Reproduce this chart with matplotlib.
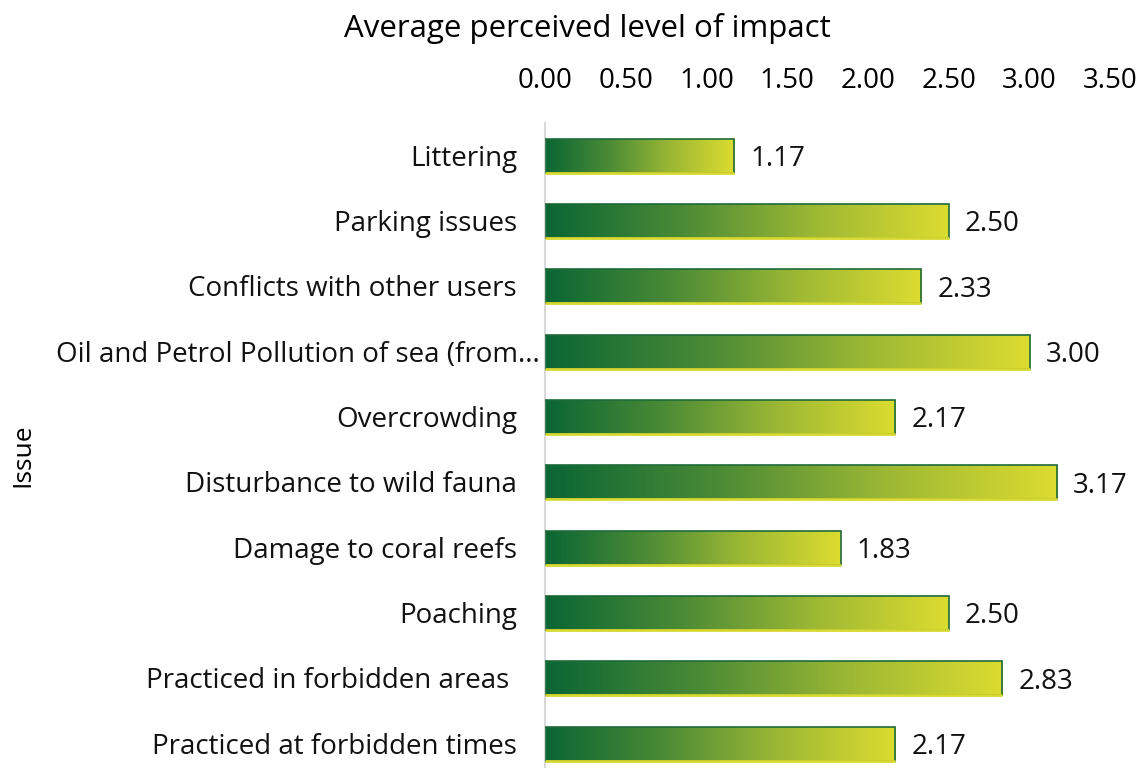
import numpy as np
import matplotlib.pyplot as plt
import matplotlib.transforms as mtransforms
from matplotlib.colors import LinearSegmentedColormap
from matplotlib.patches import Rectangle

categories = ["Littering", "Parking issues", "Conflicts with other users",
              "Oil and Petrol Pollution of sea (from...", "Overcrowding",
              "Disturbance to wild fauna", "Damage to coral reefs", "Poaching",
              "Practiced in forbidden areas ", "Practiced at forbidden times"]
values = [1.17, 2.50, 2.33, 3.00, 2.17, 3.17, 1.83, 2.50, 2.83, 2.17]
xticks = [0, 0.5, 1.0, 1.5, 2.0, 2.5, 3.0, 3.5]

plt.rcParams['font.family'] = ['Open Sans', 'DejaVu Sans']
fig = plt.figure(figsize=(11.48, 7.68), dpi=100)
ax = fig.add_axes([0.4747, 0.0, 0.4925, 0.8398])

cmap = LinearSegmentedColormap.from_list('g', ['#0a6634', '#4a8a36', '#9cb834', '#dcdc30'])
grad = np.linspace(0, 1, 256).reshape(1, -1)
h = 0.52
ypos = np.arange(len(categories))
for y, v in zip(ypos, values):
    im = ax.imshow(grad, cmap=cmap, aspect='auto', extent=[0, v, y + h/2, y - h/2], zorder=2)
    rect = Rectangle((0, y - h/2), v, h, facecolor='none', edgecolor='#1d6b3a', lw=1.2, zorder=3)
    ax.add_patch(rect)
    im.set_clip_path(rect)
    ax.plot([0, v], [y + h/2, y + h/2], color='#d8d830', lw=2, zorder=4, solid_capstyle='butt')
    ax.text(v + 0.1, y + 0.05, f"{v:.2f}", va='center', ha='left', fontsize=20, color='#111111')

ax.set_xlim(0, 3.5)
ax.set_ylim(9.37, -0.5)
ax.xaxis.tick_top()
ax.set_xticks(xticks)
ax.set_xticklabels([f"{t:.2f}" for t in xticks], fontsize=20)
ax.set_yticks(ypos)
ax.set_yticklabels([])
ax.tick_params(length=0)
ax.tick_params(axis='x', pad=20)

trans = mtransforms.blended_transform_factory(ax.transAxes, ax.transData)
for y, lab in zip(ypos, categories):
    off = -5 if lab.endswith('...') else -28
    t = mtransforms.offset_copy(trans, fig=fig, x=off, y=-3, units='dots')
    ax.text(0, y, lab, transform=t, ha='right', va='center', fontsize=20, color='#111111')

for s in ['top', 'right', 'bottom']:
    ax.spines[s].set_visible(False)
ax.spines['left'].set_color('#d9d9d9')
ax.spines['left'].set_linewidth(1.5)
fig.text(0.512, 0.963, "Average perceived level of impact", ha='center', va='center', fontsize=22.5)
fig.text(0.02, 0.407, "Issue", rotation=90, ha='center', va='center', fontsize=19)
fig.savefig('out.png', dpi=100)
